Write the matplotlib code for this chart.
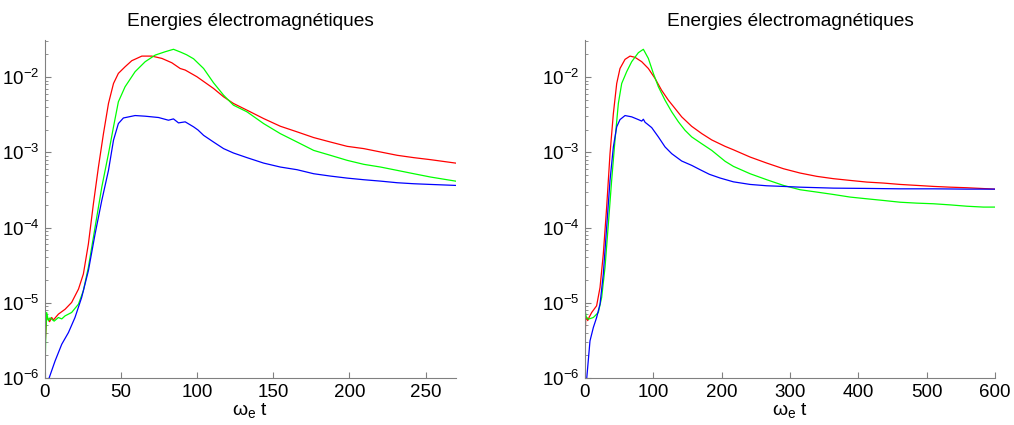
import matplotlib
matplotlib.use("Agg")
import matplotlib.pyplot as plt
from matplotlib.ticker import LogLocator, FixedLocator, NullFormatter

plt.rcParams['font.family'] = ['Liberation Sans', 'DejaVu Sans']
plt.rcParams['mathtext.fontset'] = 'custom'
plt.rcParams['mathtext.rm'] = 'Liberation Sans'
plt.rcParams['mathtext.it'] = 'Liberation Sans:italic'
plt.rcParams['mathtext.bf'] = 'Liberation Sans:bold'

# ---- short run (0 - 270) ----
t_red_a = [0, 1, 2.2, 3, 4.4, 5.5, 7, 8.8, 13.2, 17.5, 22, 25.2, 28.5, 31.8, 35.1, 38.4,
           41.7, 45, 48.2, 52.6, 57, 63.6, 70.2, 76.8, 83.3, 88.8, 92.1, 99.8, 110.7,
           117.3, 123.8, 132.7, 143.6, 154.6, 165.6, 176.5, 187.5, 198.5, 209.4, 220.4,
           231.4, 242.3, 253.3, 269.7]
e_red_a = [2.5e-6, 6.5e-6, 6.05e-6, 5.6e-6, 6.37e-6, 5.9e-6, 6.4e-6, 7.06e-6, 8.2e-6,
           1.01e-5, 1.52e-5, 2.41e-5, 6.05e-5, 2.07e-4, 6.37e-4, 1.77e-3, 4.46e-3, 8.22e-3,
           1.12e-2, 1.37e-2, 1.65e-2, 1.9e-2, 1.9e-2, 1.77e-2, 1.55e-2, 1.3e-2, 1.24e-2,
           1.01e-2, 7.06e-3, 5.47e-3, 4.46e-3, 3.63e-3, 2.81e-3, 2.22e-3, 1.87e-3, 1.57e-3,
           1.37e-3, 1.2e-3, 1.12e-3, 1.01e-3, 9.12e-4, 8.49e-4, 7.98e-4, 7.19e-4]

t_green_a = [0, 0.5, 1.1, 2.2, 3.3, 4.4, 6, 8.8, 11, 13.2, 17.5, 22, 25.2, 28.5, 32.9, 37.3,
             41.7, 45, 48.2, 52.6, 59.2, 65.8, 72.4, 78.9, 84.4, 89, 93, 97.6, 104.2, 110.7,
             117.3, 123.8, 132.7, 143.6, 154.6, 165.6, 176.5, 187.5, 198.5, 209.4, 220.4,
             231.4, 242.3, 253.3, 269.7]
e_green_a = [1.0e-6, 4.0e-6, 7.43e-6, 5.75e-6, 6.3e-6, 6.05e-6, 5.7e-6, 6.37e-6, 6.1e-6,
             6.7e-6, 7.43e-6, 9.59e-6, 1.45e-5, 2.96e-5, 1.01e-4, 3.44e-4, 9.59e-4, 2.18e-3,
             4.69e-3, 7.43e-3, 1.18e-2, 1.6e-2, 1.96e-2, 2.17e-2, 2.34e-2, 2.15e-2, 1.98e-2,
             1.75e-2, 1.3e-2, 8.4e-3, 5.75e-3, 4.23e-3, 3.45e-3, 2.41e-3, 1.77e-3, 1.37e-3,
             1.06e-3, 9.12e-4, 7.82e-4, 6.92e-4, 6.37e-4, 5.75e-4, 5.19e-4, 4.69e-4, 4.14e-4]

t_blue_a = [2.4, 6.6, 11, 15.4, 19.7, 24.1, 28.5, 32.9, 37.3, 41.7, 45, 48.2, 51.5, 59.2,
            65.8, 74.6, 81.1, 84.4, 87.7, 92.1, 97.6, 100.5, 104.2, 110.7, 117.3, 123.8,
            132.7, 143.6, 154.6, 165.6, 176.5, 187.5, 198.5, 209.4, 220.4, 231.4, 242.3,
            253.3, 269.7]
e_blue_a = [9.6e-7, 1.68e-6, 2.81e-6, 4.02e-6, 6.37e-6, 1.18e-5, 2.67e-5, 8.22e-5, 2.29e-4,
            5.75e-4, 1.45e-3, 2.41e-3, 2.86e-3, 3.08e-3, 3.02e-3, 2.9e-3, 2.67e-3, 2.78e-3,
            2.46e-3, 2.54e-3, 2.18e-3, 1.98e-3, 1.68e-3, 1.37e-3, 1.12e-3, 9.79e-4, 8.49e-4,
            7.19e-4, 6.37e-4, 5.87e-4, 5.19e-4, 4.83e-4, 4.54e-4, 4.32e-4, 4.14e-4, 3.94e-4,
            3.82e-4, 3.74e-4, 3.63e-4]

# ---- long run (0 - 600) ----
t_red_b = [0, 1, 2.4, 4, 6, 9.8, 17, 22, 26.8, 31.7, 36.6, 41.5, 46.4, 51.2, 58.6, 65.9,
           73.2, 83, 92.7, 102.5, 112, 122, 131.8, 141.5, 156, 171, 185.5, 205, 217.2,
           241.6, 266, 290.4, 314.8, 339.2, 363.6, 388, 412.4, 436.8, 461.2, 485.6, 510,
           534.4, 558.8, 600]
e_red_b = [2.5e-6, 6.5e-6, 6.37e-6, 5.8e-6, 6.4e-6, 7.43e-6, 9.12e-6, 1.6e-5, 4.46e-5,
           1.87e-4, 9.59e-4, 3.27e-3, 8.22e-3, 1.3e-2, 1.72e-2, 1.9e-2, 1.83e-2, 1.6e-2,
           1.3e-2, 9.59e-3, 6.7e-3, 4.93e-3, 3.82e-3, 2.96e-3, 2.22e-3, 1.77e-3, 1.46e-3,
           1.2e-3, 1.08e-3, 8.65e-4, 7.19e-4, 6.05e-4, 5.3e-4, 4.79e-4, 4.46e-4, 4.23e-4,
           4.02e-4, 3.9e-4, 3.74e-4, 3.63e-4, 3.52e-4, 3.44e-4, 3.38e-4, 3.24e-4]

t_green_b = [0, 0.7, 1.5, 4.9, 12.2, 19.5, 24.4, 29.3, 34.2, 39, 43.9, 48.8, 53.7, 61, 68.3,
             78.1, 85.4, 92.7, 100, 107.4, 117.1, 126.9, 136.7, 146.4, 156.2, 170.8, 185.5,
             205, 217.2, 241.6, 266, 290.4, 314.8, 339.2, 363.6, 388, 412.4, 436.8, 461.2,
             485.6, 510, 534.4, 558.8, 583, 600]
e_green_b = [1.0e-6, 7.4e-6, 6.5e-6, 6.05e-6, 6.37e-6, 7.43e-6, 1.18e-5, 2.96e-5, 1.12e-4,
             4.23e-4, 1.45e-3, 4.46e-3, 8.22e-3, 1.18e-2, 1.6e-2, 2.11e-2, 2.34e-2, 1.77e-2,
             1.12e-2, 7.43e-3, 4.93e-3, 3.45e-3, 2.54e-3, 1.96e-3, 1.6e-3, 1.3e-3, 1.06e-3,
             7.6e-4, 6.5e-4, 5.19e-4, 4.32e-4, 3.63e-4, 3.18e-4, 2.96e-4, 2.75e-4, 2.54e-4,
             2.41e-4, 2.29e-4, 2.17e-4, 2.11e-4, 2.07e-4, 2.0e-4, 1.92e-4, 1.87e-4, 1.87e-4]

t_blue_b = [2.4, 7.3, 12.2, 17, 22, 26.8, 31.7, 36.6, 41.5, 46.4, 51.2, 58.6, 68.3, 78.1,
            83, 85.4, 88, 90.3, 97.6, 107.4, 117.1, 126.9, 141.5, 156.2, 168, 182, 197.7,
            217.2, 241.6, 266, 290.4, 314.8, 363.6, 412.4, 461.2, 510, 558.8, 600]
e_blue_b = [9.6e-7, 3.11e-6, 4.69e-6, 6.37e-6, 9.59e-6, 2.41e-5, 1.01e-4, 4.23e-4, 1.18e-3,
            2.18e-3, 2.72e-3, 3.08e-3, 2.96e-3, 2.72e-3, 2.6e-3, 2.75e-3, 2.5e-3, 2.41e-3,
            2.13e-3, 1.6e-3, 1.18e-3, 9.59e-4, 7.66e-4, 6.7e-4, 5.9e-4, 5.1e-4, 4.55e-4,
            4.05e-4, 3.74e-4, 3.59e-4, 3.52e-4, 3.44e-4, 3.34e-4, 3.31e-4, 3.27e-4, 3.27e-4,
            3.24e-4, 3.24e-4]

title_text = "Energies électromagnétiques"
xlabel_text = r"$\mathregular{ω_e}$ t"
xticks_a = [0, 50, 100, 150, 200, 250]
xticks_b = [0, 100, 200, 300, 400, 500, 600]

W, H = 1014, 425
fig = plt.figure(figsize=(W / 100, H / 100), dpi=100)

panels = [
    (45, 456, 270, xticks_a, (t_red_a, e_red_a), (t_green_a, e_green_a), (t_blue_a, e_blue_a)),
    (585, 995, 600, xticks_b, (t_red_b, e_red_b), (t_green_b, e_green_b), (t_blue_b, e_blue_b)),
]

spine_col = '#808080'
for x0, x1, tmax, xt, red, green, blue in panels:
    ax = fig.add_axes([x0 / W, (H - 378) / H, (x1 - x0) / W, (378 - 40) / H])
    ax.plot(*red, color=(1, 0, 0), lw=0.9)
    ax.plot(*green, color=(0, 1, 0), lw=0.9)
    ax.plot(*blue, color=(0, 0, 1), lw=0.9)
    ax.set_yscale('log')
    ax.set_xlim(0, tmax)
    ax.set_ylim(1e-6, 3.11e-2)
    ax.xaxis.set_major_locator(FixedLocator(xt))
    ax.yaxis.set_major_locator(LogLocator(base=10, numticks=10))
    ax.yaxis.set_minor_locator(LogLocator(base=10, subs=range(2, 10), numticks=20))
    ax.yaxis.set_minor_formatter(NullFormatter())
    for s in ('top', 'right'):
        ax.spines[s].set_visible(False)
    for s in ('left', 'bottom'):
        ax.spines[s].set_color(spine_col)
        ax.spines[s].set_linewidth(0.8)
    ax.tick_params(which='both', direction='in', color=spine_col, labelsize=13.5,
                   labelcolor='black')
    ax.tick_params(which='major', length=4, width=0.8)
    ax.tick_params(which='minor', length=2.5, width=0.6)
    ax.tick_params(axis='x', pad=4)
    ax.tick_params(axis='y', pad=4)
    ax.set_title(title_text, fontsize=13.8, pad=10)
    ax.set_xlabel(xlabel_text, fontsize=14, labelpad=0)

fig.savefig('out.png', dpi=100)
